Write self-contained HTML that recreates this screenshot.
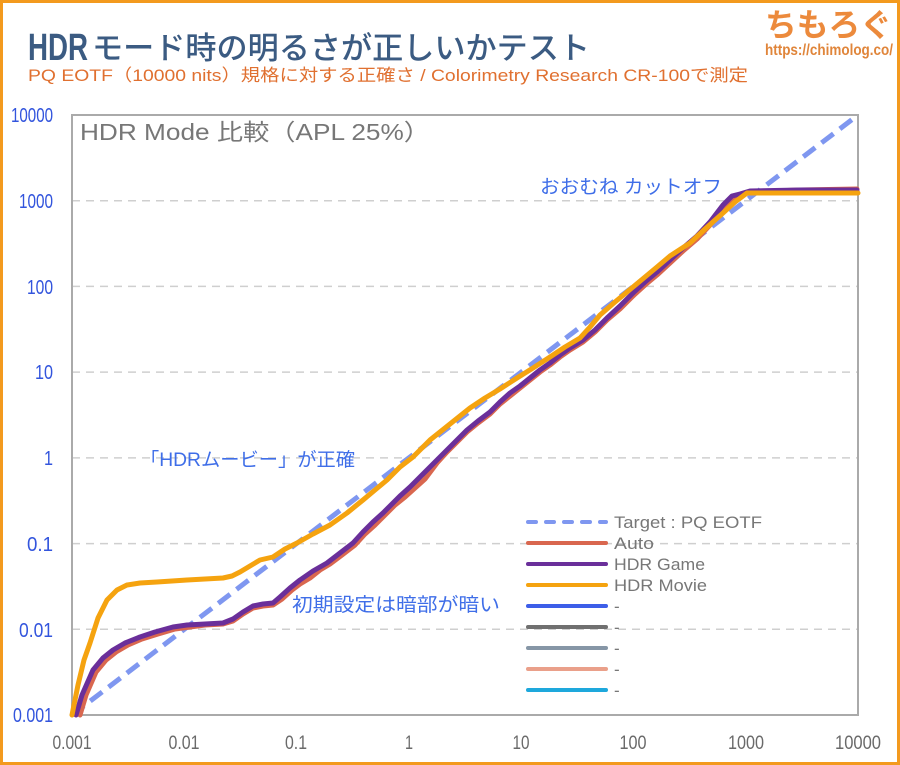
<!DOCTYPE html>
<html>
<head>
<meta charset="utf-8">
<style>
html,body{margin:0;padding:0;background:#fff;}
body{width:900px;height:765px;overflow:hidden;}
svg{display:block;}
</style>
</head>
<body>
<svg width="900" height="765" viewBox="0 0 900 765" xmlns="http://www.w3.org/2000/svg">
  <rect x="0" y="0" width="900" height="765" fill="#fff"/>
  <rect x="1.5" y="1.5" width="897" height="762" fill="none" stroke="#f39a1e" stroke-width="3"/>

  <!-- Title -->
  <text x="28" y="60" font-family="Liberation Sans, sans-serif" font-weight="bold" font-size="38" fill="#3b5b82" textLength="60" lengthAdjust="spacingAndGlyphs">HDR</text>
  <text x="92" y="59" font-family="'Liberation Sans','Noto Sans CJK JP',sans-serif" font-weight="500" font-size="31" fill="#3b5b82" textLength="498" lengthAdjust="spacingAndGlyphs">モード時の明るさが正しいかテスト</text>
  <text x="28" y="81" font-family="'Liberation Sans','Noto Sans CJK JP',sans-serif" font-size="17" fill="#e07030" textLength="720" lengthAdjust="spacingAndGlyphs">PQ EOTF（10000 nits）規格に対する正確さ / Colorimetry Research CR-100で測定</text>

  <!-- Logo -->
  <text x="765" y="36" font-family="'Noto Sans CJK JP',sans-serif" font-weight="bold" font-size="32" fill="#ec8a3c" textLength="127" lengthAdjust="spacingAndGlyphs">ちもろぐ</text>
  <text x="765" y="55" font-family="'Liberation Sans',sans-serif" font-weight="bold" font-size="16" fill="#e0853a" textLength="128" lengthAdjust="spacingAndGlyphs">https://chimolog.co/</text>

  <!-- Gridlines -->
  <g stroke="#cfcfcf" stroke-width="1.5" stroke-dasharray="8 6">
    <line x1="72" y1="629.3" x2="858" y2="629.3"/>
    <line x1="72" y1="543.6" x2="858" y2="543.6"/>
    <line x1="72" y1="457.9" x2="858" y2="457.9"/>
    <line x1="72" y1="372.1" x2="858" y2="372.1"/>
    <line x1="72" y1="286.4" x2="858" y2="286.4"/>
    <line x1="72" y1="200.7" x2="858" y2="200.7"/>
  </g>

  <!-- Frame -->
  <rect x="72" y="115" width="786" height="600" fill="none" stroke="#aaaaaa" stroke-width="2"/>

  <!-- Chart title -->
  <text x="80" y="140" font-family="'Liberation Sans','Noto Sans CJK JP',sans-serif" font-size="23" fill="#777" textLength="350" lengthAdjust="spacingAndGlyphs">HDR Mode 比較（APL 25%）</text>

  <!-- Y labels -->
  <g font-family="'Liberation Sans',sans-serif" font-size="20" fill="#3355dd" text-anchor="end">
    <text x="53" y="122" textLength="42" lengthAdjust="spacingAndGlyphs">10000</text>
    <text x="53" y="208" textLength="34" lengthAdjust="spacingAndGlyphs">1000</text>
    <text x="53" y="294" textLength="26" lengthAdjust="spacingAndGlyphs">100</text>
    <text x="53" y="379" textLength="18" lengthAdjust="spacingAndGlyphs">10</text>
    <text x="53" y="465" textLength="9" lengthAdjust="spacingAndGlyphs">1</text>
    <text x="53" y="551" textLength="26" lengthAdjust="spacingAndGlyphs">0.1</text>
    <text x="53" y="637" textLength="34" lengthAdjust="spacingAndGlyphs">0.01</text>
    <text x="53" y="722" textLength="40" lengthAdjust="spacingAndGlyphs">0.001</text>
  </g>

  <!-- X labels -->
  <g font-family="'Liberation Sans',sans-serif" font-size="19" fill="#6a6a6a" text-anchor="middle">
    <text x="72" y="749" textLength="39" lengthAdjust="spacingAndGlyphs">0.001</text>
    <text x="184" y="749" textLength="31" lengthAdjust="spacingAndGlyphs">0.01</text>
    <text x="296" y="749" textLength="22" lengthAdjust="spacingAndGlyphs">0.1</text>
    <text x="409" y="749" textLength="8" lengthAdjust="spacingAndGlyphs">1</text>
    <text x="521" y="749" textLength="17" lengthAdjust="spacingAndGlyphs">10</text>
    <text x="633" y="749" textLength="27" lengthAdjust="spacingAndGlyphs">100</text>
    <text x="746" y="749" textLength="36" lengthAdjust="spacingAndGlyphs">1000</text>
    <text x="858" y="749" textLength="46" lengthAdjust="spacingAndGlyphs">10000</text>
  </g>

  <!-- Target -->
  <line x1="72" y1="715" x2="858" y2="115" stroke="#7f97f0" stroke-width="5" stroke-dasharray="15 8"/>

  <!-- Auto -->
  <polyline fill="none" stroke="#d9674f" stroke-width="5" stroke-linejoin="round" stroke-linecap="round"
    points="80,715 86,695 96,672 106,660 116,652 128,645 142,639 158,634 175,629 190,627 205,625 223,624 233,621 243,614 253,608 263,606 273,605 282,599 292,590 300,584 310,578 320,570 330,564 342,555 355,545 365,534 375,525 385,515 395,505 405,497 415,488 425,479 437,463 447,452 457,442 467,432 478,423 490,414 500,404 510,396 520,388 530,380 540,372 550,365 560,357 570,350 583,342 595,332 607,320 620,309 633,296 645,285 657,275 670,263 683,251 697,239 710,225 723,210 732,200 740,196 750,192 800,190 857,189"/>

  <!-- HDR Game -->
  <polyline fill="none" stroke="#6a2f9a" stroke-width="5" stroke-linejoin="round" stroke-linecap="round"
    points="76,715 82,695 93,670 103,658 113,650 125,643 140,637 155,632 173,627 187,625 205,624 223,623 233,619 243,612 253,606 263,604 273,603 280,597 290,588 300,580 313,571 327,563 340,553 353,543 363,532 373,522 383,513 393,503 400,496 410,487 420,477 427,470 437,460 447,450 457,440 467,430 478,421 490,412 500,402 510,393 520,386 530,378 540,370 550,363 560,355 570,348 583,340 595,330 607,318 620,306 633,293 645,282 657,272 670,260 683,248 697,236 710,222 723,205 732,196 740,194 750,191 800,190 857,190"/>

  <!-- HDR Movie -->
  <polyline fill="none" stroke="#f5a30f" stroke-width="5" stroke-linejoin="round" stroke-linecap="round"
    points="72,715 78,685 84,660 90,643 98,618 107,600 117,590 127,585 140,583 157,582 172,581 187,580 205,579 223,578 232,576 240,572 250,566 260,560 273,557 285,549 297,543 313,534 330,525 347,513 363,500 375,490 387,480 400,467 413,457 430,440 450,424 470,408 485,398 500,389 517,378 533,368 550,357 565,347 580,338 590,327 600,315 615,302 633,287 645,277 657,267 670,256 690,243 705,229 723,213 735,202 747,193 800,193 858,193"/>

  <!-- Annotations -->
  <g font-family="'Liberation Sans','Noto Sans CJK JP',sans-serif" font-size="19" fill="#3f6ee8">
    <text x="540" y="193" textLength="182" lengthAdjust="spacingAndGlyphs">おおむね カットオフ</text>
    <text x="140" y="466" textLength="215" lengthAdjust="spacingAndGlyphs">「HDRムービー」が正確</text>
    <text x="292" y="611" textLength="208" lengthAdjust="spacingAndGlyphs">初期設定は暗部が暗い</text>
  </g>

  <!-- Legend -->
  <g stroke-width="4" stroke-linecap="round">
    <line x1="528" y1="522" x2="606" y2="522" stroke="#7f97f0" stroke-dasharray="8 10"/>
    <line x1="528" y1="543" x2="606" y2="543" stroke="#d9674f"/>
    <line x1="528" y1="564" x2="606" y2="564" stroke="#6a2f9a"/>
    <line x1="528" y1="585" x2="606" y2="585" stroke="#f5a30f"/>
    <line x1="528" y1="606" x2="606" y2="606" stroke="#3d5ee8"/>
    <line x1="528" y1="627" x2="606" y2="627" stroke="#707070"/>
    <line x1="528" y1="648" x2="606" y2="648" stroke="#8696a6"/>
    <line x1="528" y1="669" x2="606" y2="669" stroke="#eaa08a"/>
    <line x1="528" y1="690" x2="606" y2="690" stroke="#1ea8dc"/>
  </g>
  <g font-family="'Liberation Sans',sans-serif" font-size="17" fill="#777">
    <text x="614" y="528" textLength="148" lengthAdjust="spacingAndGlyphs">Target : PQ EOTF</text>
    <text x="614" y="549" textLength="40" lengthAdjust="spacingAndGlyphs">Auto</text>
    <text x="614" y="570" textLength="91" lengthAdjust="spacingAndGlyphs">HDR Game</text>
    <text x="614" y="591" textLength="93" lengthAdjust="spacingAndGlyphs">HDR Movie</text>
    <text x="614" y="612">-</text>
    <text x="614" y="633">-</text>
    <text x="614" y="654">-</text>
    <text x="614" y="675">-</text>
    <text x="614" y="696">-</text>
  </g>
</svg>
</body>
</html>
